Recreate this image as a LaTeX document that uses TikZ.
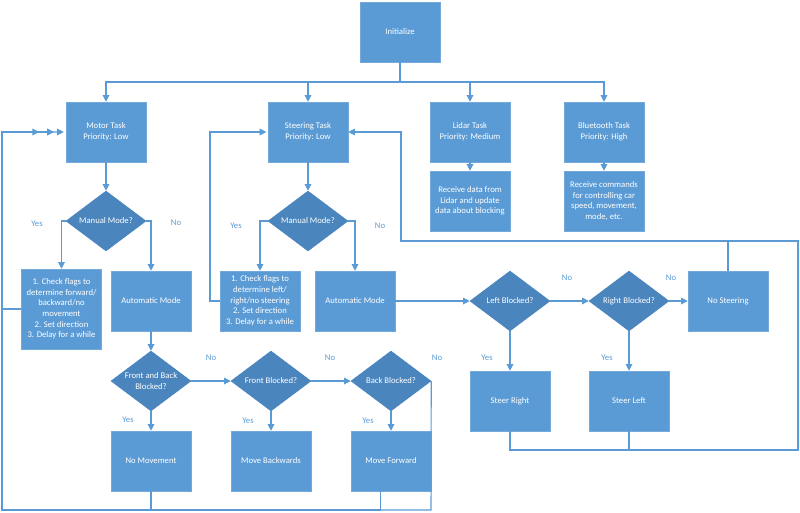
\documentclass[tikz,border=0pt]{standalone}
\usepackage{fontspec}
\setmainfont{Carlito}
\usepackage{tikz}
\usetikzlibrary{positioning, shapes.geometric, arrows.meta}
\definecolor{boxblue}{HTML}{5B9BD5}
\definecolor{decblue}{HTML}{4A85BE}
\definecolor{lineblue}{HTML}{5B9BD5}
\tikzstyle{task}=[
  rectangle,
  minimum width=60pt,
  minimum height=45pt,
  inner sep=1pt,
  fill=boxblue,
  draw=boxblue!85!white,
  text=white,
  align=center,
  font={\fontsize{6.5}{8}\selectfont}
]
\tikzstyle{decision}=[
  diamond,
  aspect=1.333,
  minimum width=60pt,
  minimum height=45pt,
  inner sep=0pt,
  fill=decblue,
  draw=decblue,
  text=white,
  align=center,
  font={\fontsize{6.5}{8}\selectfont}
]
\tikzstyle{lbl}=[
  text=lineblue,
  inner sep=0pt,
  font={\fontsize{6.5}{8}\selectfont}
]
\tikzstyle{wire}=[draw=lineblue, line width=0.8pt]
\tikzstyle{arr}=[wire, -{Triangle[length=5pt,width=5pt]}]

\begin{document}
\begin{tikzpicture}[x=0.75pt, y=-0.75pt]

\useasboundingbox (0,0) rectangle (800,512);

\newcommand\BUSY{82}

%% boxes
\node[task] (init) at (400,32) {Initialize};

\node[task] (motor) at (106,132) {Motor Task\\Priority: Low};
\node[task] (steer) at (308,132) {Steering Task\\Priority: Low};
\node[task] (lidar) at (470,132) {Lidar Task\\Priority: Medium};
\node[task] (bt) at (604,132) {Bluetooth Task\\Priority: High};

\node[task] (lidarrx) at (470,201) {Receive data from\\Lidar and update\\data about blocking};
\node[task] (btrx) at (604,201) {Receive commands\\for controlling car\\speed, movement,\\mode, etc.};

\node[decision] (mman) at (106,221) {Manual Mode?};
\node[decision] (sman) at (308,221) {Manual Mode?};

\node[task, minimum height=60pt] (mcheck) at (61.5,309) {1. Check flags to\\determine forward/\\backward/no\\movement\\2. Set direction\\3. Delay for a while};
\node[task] (mauto) at (151,301) {Automatic Mode};
\node[task] (scheck) at (260,301) {1. Check flags to\\determine left/\\right/no steering\\2. Set direction\\3. Delay for a while};
\node[task] (sauto) at (355,301) {Automatic Mode};

\node[decision] (fb) at (151,381) {Front and Back\\Blocked?};
\node[decision] (front) at (271,381) {Front Blocked?};
\node[decision] (back) at (391,381) {Back Blocked?};

\node[task] (nomove) at (151,461) {No Movement};
\node[task] (backw) at (271,461) {Move Backwards};
\node[task] (forw) at (391,461) {Move Forward};

\node[decision] (lblk) at (510,301) {Left Blocked?};
\node[decision] (rblk) at (629,301) {Right Blocked?};
\node[task] (nosteer) at (728,301) {No Steering};

\node[task] (sright) at (510,401) {Steer Right};
\node[task] (sleft) at (629,401) {Steer Left};

%% yes / no
\node[lbl] (mmyes) at (37,224) {Yes};
\node[lbl] (mmno) at (176,223) {No};
\node[lbl] (smyes) at (236,226) {Yes};
\node[lbl] (smno) at (380,226) {No};
\node[lbl] (fbno) at (211,358) {No};
\node[lbl] (frno) at (330,358) {No};
\node[lbl] (bkno) at (437,358) {No};
\node[lbl] (fbyes) at (128,420) {Yes};
\node[lbl] (fryes) at (248,421) {Yes};
\node[lbl] (bkyes) at (368,421) {Yes};
\node[lbl] (lbno) at (567,278) {No};
\node[lbl] (rbno) at (671,278) {No};
\node[lbl] (lbyes) at (487,358) {Yes};
\node[lbl] (rbyes) at (607,358) {Yes};

%% start
\coordinate (bus) at (400,\BUSY);
\draw[arr] (init.south) -- (bus) -| (motor.north);
\draw[arr] (init.south) -- (bus) -| (steer.north);
\draw[arr] (init.south) -- (bus) -| (lidar.north);
\draw[arr] (init.south) -- (bus) -| (bt.north);

\draw[arr] (motor.south) -- (mman.north);
\draw[arr] (steer.south) -- (sman.north);
\draw[arr] (lidar.south) -- (lidarrx.north);
\draw[arr] (bt.south) -- (btrx.north);

%% motor task
\draw[arr] (mman.west) -| (mcheck.north);
\draw[arr] (mman.east) -| (mauto.north);
\draw[arr] (mauto.south) -- (fb.north);
\draw[arr] (fb.south) -- (nomove.north);
\draw[arr] (fb.east) -- (front.west);
\draw[arr] (front.south) -- (backw.north);
\draw[arr] (front.east) -- (back.west);
\draw[arr] (back.south) -- (forw.north);

\coordinate (mbr) at (431,510);
\coordinate (mbl) at (2,510);
\coordinate (mtl) at (2,132);
\draw[arr, shorten >=1.5pt] (back.east) -- (mbr) -- (mbl) -- (mtl) -- (motor.west);
\draw[arr, shorten >=9pt] (nomove.south) -- (nomove.south |- mbl) -- (mbl) -- (mtl) -- (motor.west);
\draw[arr, shorten >=9pt] ([xshift=-8pt]forw.south) -- ([xshift=-8pt]forw.south |- mbl) -- (mbl) -- (mtl) -- (motor.west);
\draw[arr, shorten >=20pt] (mcheck.west) -- (mcheck.west -| mtl) -- (mtl) -- (motor.west);

%% steering task
\draw[arr] (sman.west) -| (scheck.north);
\draw[arr] (sman.east) -| (sauto.north);
\draw[arr] (sauto.east) -- (lblk.west);
\draw[arr] (lblk.east) -- (rblk.west);
\draw[arr] (rblk.east) -- (nosteer.west);
\draw[arr] (lblk.south) -- (sright.north);
\draw[arr] (rblk.south) -- (sleft.north);

\coordinate (stl) at (210,132);
\draw[arr, shorten >=1pt] (scheck.west) -| (stl) -- (steer.west);

\coordinate (rbot) at (798,450);
\coordinate (rtop) at (798,241);
\coordinate (rmid) at (401,241);
\coordinate (rin) at (401,132);
\draw[arr] (sright.south) |- (rbot) -- (rtop) -- (rmid) -- (rin) -- (steer.east);
\draw[wire] (sleft.south) -- (sleft.south |- rbot);
\draw[wire] (nosteer.north) -- (nosteer.north |- rtop);

\end{tikzpicture}
\end{document}
